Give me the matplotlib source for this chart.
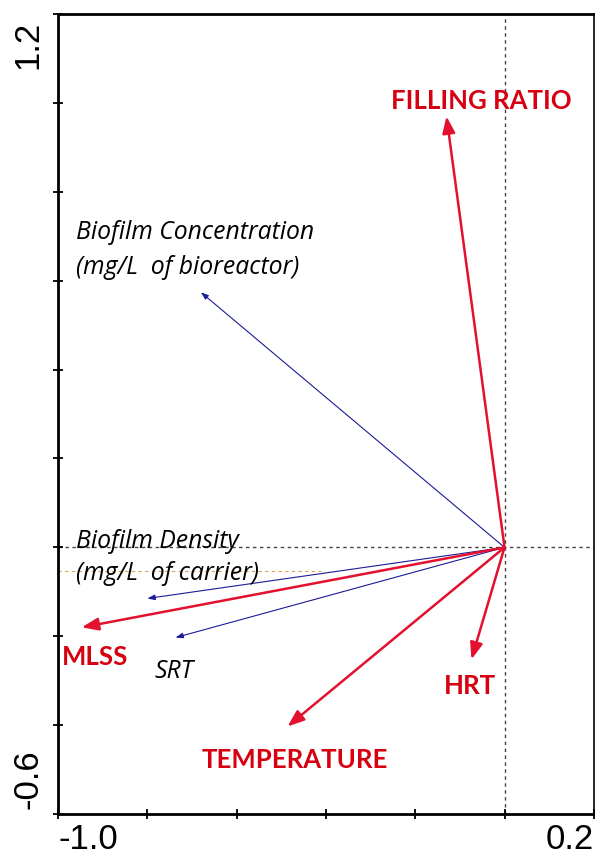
import matplotlib.pyplot as plt
from matplotlib.patches import FancyArrowPatch

# environmental variables (red, bold) - arrow tips in biplot coords
env_names = ["FILLING RATIO", "MLSS", "HRT", "TEMPERATURE"]
env_x = [-0.13, -0.947, -0.074, -0.486]
env_y = [0.97, -0.18, -0.252, -0.403]

# response variables (blue, thin)
resp_names = ["Biofilm Concentration\n(mg/L  of bioreactor)",
              "Biofilm Density\n(mg/L  of carrier)", "SRT"]
resp_x = [-0.68, -0.80, -0.737]
resp_y = [0.574, -0.115, -0.203]

x_lim = [-1.0, 0.2]
y_lim = [-0.6, 1.2]

RED = "#e3102e"
RED_TXT = "#d60010"
BLUE = "#1c1c96"

fig = plt.figure(figsize=(5.95, 8.62), dpi=100)
ax = fig.add_axes([0.0975, 0.0545, 0.9005, 0.928])
ax.set_xlim(x_lim)
ax.set_ylim(y_lim)

ax.set_xticks([-1.0, -0.8, -0.6, -0.4, -0.2, 0.0, 0.2])
ax.set_yticks([-0.6, -0.4, -0.2, 0.0, 0.2, 0.4, 0.6, 0.8, 1.0, 1.2])
ax.set_xticklabels([])
ax.set_yticklabels([])
ax.tick_params(direction="inout", length=7, width=1.3, color="black")
for side in ["left", "bottom", "top"]:
    ax.spines[side].set_linewidth(2)
ax.spines["right"].set_linewidth(1.2)

# only the end values are labelled
tick_font = dict(family="Liberation Sans", fontsize=25)
ax.text(0, -0.010, "-1.0", transform=ax.transAxes, ha="left", va="top", **tick_font)
ax.text(1, -0.010, "0.2", transform=ax.transAxes, ha="right", va="top", **tick_font)
ax.text(-0.026, 0.993, "1.2", transform=ax.transAxes, ha="right", va="top",
        rotation=90, **tick_font)
ax.text(-0.026, 0.008, "-0.6", transform=ax.transAxes, ha="right", va="bottom",
        rotation=90, **tick_font)

ax.axhline(0, color="#444444", lw=1, ls=(0, (2.5, 2.5)), zorder=1)
ax.axvline(0, color="#444444", lw=1, ls=(0, (2.5, 2.5)), zorder=1)
# faint stray dashed line seen in the original
ax.plot([-1.0, -0.41], [-0.054, -0.054], color="#e0a050", lw=0.8,
        ls=(0, (3, 3)), zorder=1)

for x, y in zip(resp_x, resp_y):
    ax.add_patch(FancyArrowPatch((0, 0), (x, y), arrowstyle="-|>,head_length=4.5,head_width=1.6",
                                 color=BLUE, lw=0.8, shrinkA=0, shrinkB=0, zorder=3))
for x, y in zip(env_x, env_y):
    ax.add_patch(FancyArrowPatch((0, 0), (x, y), arrowstyle="-|>,head_length=10,head_width=3.8",
                                 color=RED, lw=1.8, shrinkA=0, shrinkB=0, zorder=4))

red_font = dict(family="Lato", fontweight="bold", fontsize=18.5, color=RED_TXT)
ax.text(-0.0515, 1.007, env_names[0], ha="center", va="center", **red_font)
ax.text(-0.992, -0.244, env_names[1], ha="left", va="center", **red_font)
ax.text(-0.078, -0.309, env_names[2], ha="center", va="center", **red_font)
ax.text(-0.470, -0.476, env_names[3], ha="center", va="center", **red_font)

# italic labels, one text per line, placed on their baselines
it_font = dict(family="Open Sans", style="italic", fontsize=17.8, color="black")
line_pos = [[(-0.960, 0.696), (-0.960, 0.618)],
            [(-0.960, 0.001), (-0.960, -0.071)],
            [(-0.784, -0.291)]]
for name, pos in zip(resp_names, line_pos):
    for line, (tx, ty) in zip(name.split("\n"), pos):
        ax.text(tx, ty, line, ha="left", va="baseline", **it_font)

fig.savefig("out.png", dpi=100)
